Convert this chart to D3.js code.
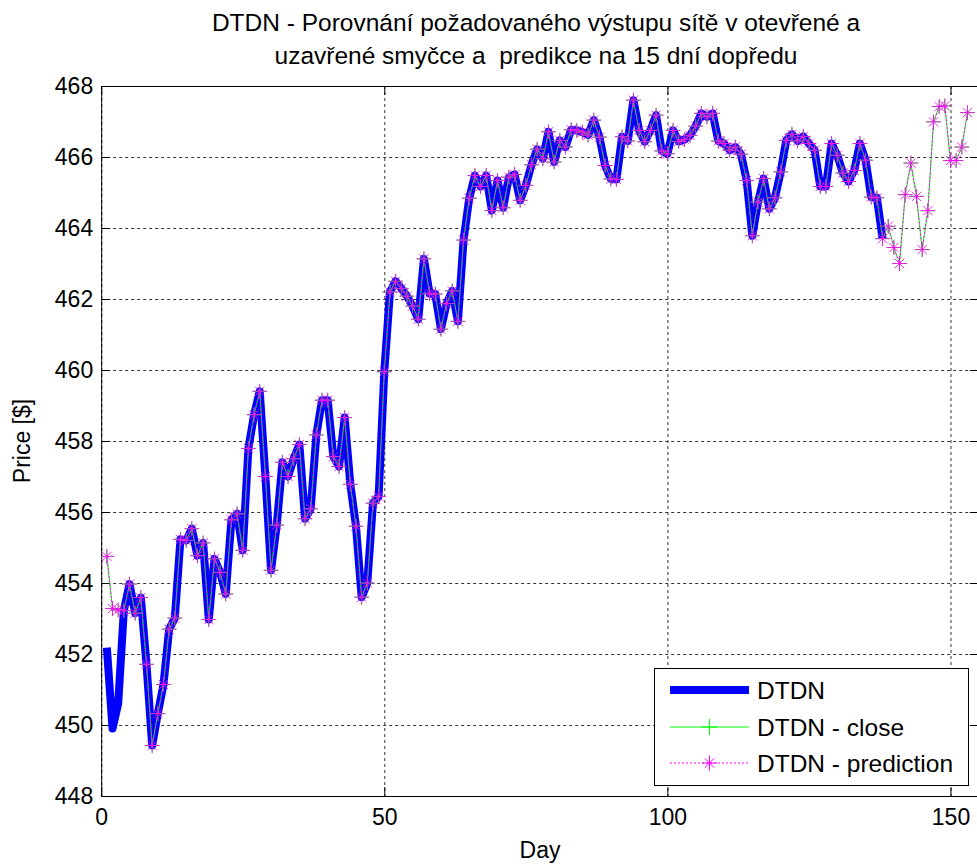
<!DOCTYPE html>
<html>
<head>
<meta charset="utf-8">
<script src="https://cdn.jsdelivr.net/npm/d3@7"></script>
<style>
  body { margin: 0; background: #fff; }
  svg { display: block; font-family: "Liberation Sans", Arial, sans-serif; }
</style>
</head>
<body>
<div id="chart"></div>
<script>
////////////////////////////////////////////////////////////////////////////////
// Data
////////////////////////////////////////////////////////////////////////////////
// Real price, days 1..138
var actual = [
  452.18, 449.90, 450.60, 453.22, 453.97, 453.15, 453.59, 451.71, 449.42, 450.32,
  451.14, 452.70, 453.01, 455.23, 455.20, 455.53, 454.77, 455.13, 452.97, 454.68,
  454.30, 453.69, 455.78, 455.95, 454.92, 457.79, 458.74, 459.40, 457.00, 454.36,
  455.63, 457.40, 457.00, 457.50, 457.90, 455.81, 456.09, 458.17, 459.15, 459.15,
  457.56, 457.28, 458.66, 456.78, 455.60, 453.60, 454.00, 456.25, 456.44, 459.95,
  462.20, 462.50, 462.30, 462.08, 461.80, 461.43, 463.13, 462.15, 462.14, 461.15,
  461.87, 462.23, 461.37, 463.66, 464.84, 465.48, 465.17, 465.48, 464.49, 465.34,
  464.57, 465.43, 465.51, 464.78, 465.20, 465.78, 466.22, 465.95, 466.71, 465.86,
  466.47, 466.28, 466.77, 466.75, 466.70, 466.62, 467.04, 466.56, 465.76, 465.38,
  465.37, 466.57, 466.45, 467.60, 466.75, 466.43, 466.75, 467.18, 466.17, 466.09,
  466.75, 466.44, 466.49, 466.61, 466.87, 467.23, 467.13, 467.23, 466.45, 466.38,
  466.19, 466.28, 466.08, 465.34, 463.78, 464.73, 465.39, 464.54, 464.85, 465.58,
  466.47, 466.64, 466.45, 466.58, 466.38, 466.19, 465.17, 465.17, 466.38, 466.05,
  465.55, 465.31, 465.62, 466.38, 465.91, 464.87, 464.85, 463.70
];
// Network output on the first days, where it differs from the real price
var netStart = [454.75, 453.28, 453.24];
// 15 days predicted forward, days 139..153
var forecast = [
  464.05, 463.45, 463.00, 464.94, 465.83, 464.89, 463.39, 464.49,
  466.99, 467.42, 467.44, 465.90, 465.90, 466.28, 467.25
];
var xTicks = [0, 50, 100, 150];
var yTicks = [448, 450, 452, 454, 456, 458, 460, 462, 464, 466, 468];
var titleLines = [
  "DTDN - Porovnání požadovaného výstupu sítě v otevřené a",
  "uzavřené smyčce a  predikce na 15 dní dopředu"
];
var legendNames = ["DTDN", "DTDN - close", "DTDN - prediction"];

////////////////////////////////////////////////////////////////////////////////
// Build series
////////////////////////////////////////////////////////////////////////////////
var actualPts = actual.map(function (v, i) { return { day: i + 1, value: v }; });
var netVals = netStart.concat(actual.slice(netStart.length)).concat(forecast);
var netPts = netVals.map(function (v, i) { return { day: i + 1, value: v }; });

////////////////////////////////////////////////////////////////////////////////
// Layout
////////////////////////////////////////////////////////////////////////////////
var W = 977, H = 864;
var plotL = 101.2, plotR = 978.8, plotT = 86, plotB = 796;

var svg = d3.select("#chart").append("svg")
   .attr("width", W)
   .attr("height", H);

var x = d3.scaleLinear().domain([0, 155]).range([plotL, plotR]);
var y = d3.scaleLinear().domain([448, 468]).range([plotB, plotT]);

svg.append("defs").append("clipPath").attr("id", "plotClip")
   .append("rect")
   .attr("x", plotL).attr("y", plotT)
   .attr("width", plotR - plotL).attr("height", plotB - plotT);

// Grid
var grid = svg.append("g").attr("class", "grid")
   .attr("stroke", "#333").attr("stroke-width", 1).attr("stroke-dasharray", "3,3");
grid.selectAll("line.gx").data(xTicks).enter().append("line")
   .attr("x1", function (d) { return x(d) + 0.5; })
   .attr("x2", function (d) { return x(d) + 0.5; })
   .attr("y1", plotT).attr("y2", plotB);
grid.selectAll("line.gy").data(yTicks).enter().append("line")
   .attr("y1", function (d) { return Math.round(y(d)) + 0.5; })
   .attr("y2", function (d) { return Math.round(y(d)) + 0.5; })
   .attr("x1", plotL).attr("x2", plotR);

// Axes (MATLAB style, ticks inside)
var xAxis = d3.axisBottom(x).tickValues(xTicks).tickSizeInner(-9).tickSizeOuter(0).tickPadding(13);
var yAxis = d3.axisLeft(y).tickValues(yTicks).tickSizeInner(-9).tickSizeOuter(0).tickPadding(8);
var gx = svg.append("g").attr("transform", "translate(0," + plotB + ")").call(xAxis);
var gy = svg.append("g").attr("transform", "translate(" + plotL + ",0)").call(yAxis);
var gxTop = svg.append("g").attr("transform", "translate(0," + plotT + ")")
   .call(d3.axisTop(x).tickValues(xTicks).tickSizeInner(-9).tickSizeOuter(0).tickFormat(""));
var gyRight = svg.append("g").attr("transform", "translate(" + plotR + ",0)")
   .call(d3.axisRight(y).tickValues(yTicks).tickSizeInner(-9).tickSizeOuter(0).tickFormat(""));
[gx, gy, gxTop, gyRight].forEach(function (g) {
   g.selectAll("path, line").attr("stroke", "#000").attr("stroke-width", 1);
   g.selectAll("text").attr("font-size", "23px").attr("fill", "#000")
      .attr("font-family", "'Liberation Sans', Arial, sans-serif");
});
gx.selectAll("text").attr("dy", "0.71em");

// Title and axis labels
svg.append("g").selectAll("text").data(titleLines).enter().append("text")
   .attr("x", 536)
   .attr("y", function (d, i) { return 31 + i * 33; })
   .attr("text-anchor", "middle")
   .attr("font-size", "24.5px")
   .style("white-space", "pre")
   .text(function (d) { return d; });
svg.append("text").attr("x", 540).attr("y", 858)
   .attr("text-anchor", "middle").attr("font-size", "23px").text("Day");
svg.append("text").attr("transform", "translate(30,441) rotate(-90)")
   .attr("text-anchor", "middle").attr("font-size", "23px").text("Price [$]");

////////////////////////////////////////////////////////////////////////////////
// Series
////////////////////////////////////////////////////////////////////////////////
var line = d3.line()
   .x(function (d) { return x(d.day); })
   .y(function (d) { return y(d.value); });

var plot = svg.append("g").attr("clip-path", "url(#plotClip)");

plot.append("path").datum(actualPts)
   .attr("d", line)
   .attr("fill", "none").attr("stroke", "#0000ff")
   .attr("stroke-width", 8).attr("stroke-linejoin", "round");

function plusPath(cx, cy, r) {
   return "M" + (cx - r) + "," + cy + "H" + (cx + r) + "M" + cx + "," + (cy - r) + "V" + (cy + r);
}
function starPath(cx, cy, r) {
   var k = r * 0.62;
   return plusPath(cx, cy, r) +
      "M" + (cx - k) + "," + (cy - k) + "L" + (cx + k) + "," + (cy + k) +
      "M" + (cx - k) + "," + (cy + k) + "L" + (cx + k) + "," + (cy - k);
}

// close loop output: green line with + markers
plot.append("path").datum(netPts)
   .attr("d", line)
   .attr("fill", "none").attr("stroke", "#00ff00").attr("stroke-width", 1);
plot.append("g").selectAll("path").data(netPts).enter().append("path")
   .attr("d", function (d) { return plusPath(x(d.day), y(d.value), 7); })
   .attr("stroke", "#00ff00").attr("stroke-width", 1).attr("fill", "none");

// prediction: magenta dotted line with * markers
plot.append("path").datum(netPts)
   .attr("d", line)
   .attr("fill", "none").attr("stroke", "#ff00ff").attr("stroke-width", 1)
   .attr("stroke-dasharray", "2,2");
plot.append("g").selectAll("path").data(netPts).enter().append("path")
   .attr("d", function (d) { return starPath(x(d.day), y(d.value), 7.5); })
   .attr("stroke", "#ff00ff").attr("stroke-width", 1).attr("fill", "none")
   .attr("opacity", 0.85);

////////////////////////////////////////////////////////////////////////////////
// Legend
////////////////////////////////////////////////////////////////////////////////
var leg = svg.append("g");
leg.append("rect").attr("x", 654.5).attr("y", 668.5).attr("width", 314).attr("height", 117)
   .attr("fill", "#fff").attr("stroke", "#000").attr("stroke-width", 1);
var legY = [690, 727, 763];
var lx1 = 670, lx2 = 749, lxm = 709.5;
leg.append("line").attr("x1", lx1).attr("x2", lx2).attr("y1", legY[0]).attr("y2", legY[0])
   .attr("stroke", "#0000ff").attr("stroke-width", 8);
leg.append("line").attr("x1", lx1).attr("x2", lx2).attr("y1", legY[1]).attr("y2", legY[1])
   .attr("stroke", "#00ff00").attr("stroke-width", 1);
leg.append("path").attr("d", plusPath(lxm, legY[1], 8))
   .attr("stroke", "#00ff00").attr("fill", "none");
leg.append("line").attr("x1", lx1).attr("x2", lx2).attr("y1", legY[2]).attr("y2", legY[2])
   .attr("stroke", "#ff00ff").attr("stroke-width", 1).attr("stroke-dasharray", "2,2");
leg.append("path").attr("d", starPath(lxm, legY[2], 7.5))
   .attr("stroke", "#ff00ff").attr("fill", "none");
leg.selectAll("text").data(legendNames).enter().append("text")
   .attr("x", 757)
   .attr("y", function (d, i) { return legY[i]; })
   .attr("dy", "0.36em")
   .attr("font-size", "24.5px")
   .text(function (d) { return d; });
</script>
</body>
</html>
